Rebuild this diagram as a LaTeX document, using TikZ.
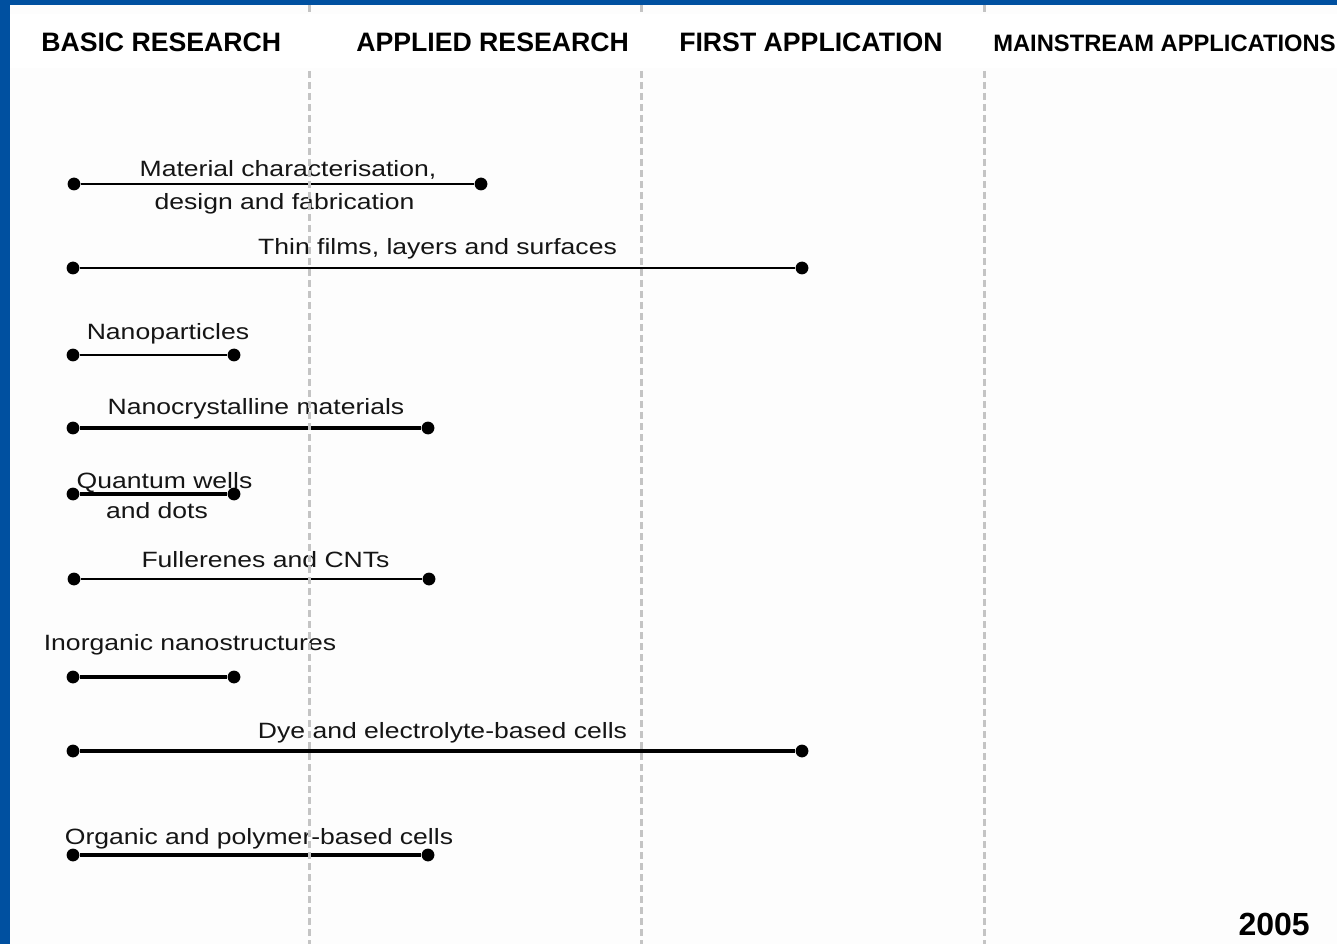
\documentclass[tikz,border=0pt]{standalone}
\usepackage{fontspec}
\setmainfont{Liberation Sans}
\newfontfamily\lblfont[FakeStretch=1.2]{Liberation Sans}
\definecolor{framebg}{HTML}{FDFDFD}
\definecolor{frameblue}{HTML}{0050A0}
\definecolor{phasegray}{HTML}{C4C4C4}
\definecolor{inkgray}{HTML}{151515}

\begin{document}
\begin{tikzpicture}[x=0.75pt,y=-0.75pt,
  dot/.style={circle,fill=black,inner sep=0pt,minimum size=9.6pt},
  thinbar/.style={line width=1.5pt},
  thickbar/.style={line width=2.3pt},
  lbl/.style={anchor=base,inner sep=0pt,text=inkgray,
    font=\lblfont\fontsize{16.6}{20}\selectfont},
  hdr/.style={anchor=base west,inner sep=0pt,
    font=\bfseries\fontsize{20}{24}\selectfont},
  phase/.style={draw=phasegray,line width=2.25pt,dash pattern=on 5.25pt off 3pt}]

% canvas and frame
\useasboundingbox (0,0) rectangle (1337,944);
\fill[framebg] (0,0) rectangle (1337,944);
\fill[frameblue] (0,0) rectangle (10,944);
\fill[frameblue] (0,0) rectangle (1337,5);

% technology bars: start and end markers
\node[dot] (a1) at (74,184) {};  \node[dot] (b1) at (481,184) {};
\node[dot] (a2) at (73,268) {};  \node[dot] (b2) at (802,268) {};
\node[dot] (a3) at (73,355) {};  \node[dot] (b3) at (234,355) {};
\node[dot] (a4) at (73,428) {};  \node[dot] (b4) at (428,428) {};
\node[dot] (a5) at (73,494) {};  \node[dot] (b5) at (234,494) {};
\node[dot] (a6) at (74,579) {};  \node[dot] (b6) at (429,579) {};
\node[dot] (a7) at (73,677) {};  \node[dot] (b7) at (234,677) {};
\node[dot] (a8) at (73,751) {};  \node[dot] (b8) at (802,751) {};
\node[dot] (a9) at (73,855) {};  \node[dot] (b9) at (428,855) {};

\draw[thinbar]  (a1) -- (b1);
\draw[thinbar]  (a2) -- (b2);
\draw[thinbar]  (a3) -- (b3);
\draw[thickbar] (a4) -- (b4);
\draw[thickbar] (a5) -- (b5);
\draw[thinbar]  (a6) -- (b6);
\draw[thickbar] (a7) -- (b7);
\draw[thickbar] (a8) -- (b8);
\draw[thickbar] (a9) -- (b9);

% bar labels
\node[lbl] (t1a) at (288,177) {Material characterisation,};
\node[lbl] (t1b) at (284.5,210) {design and fabrication};
\node[lbl] (t2)  at (437.5,255) {Thin films, layers and surfaces};
\node[lbl] (t3)  at (168,340) {Nanoparticles};
\node[lbl] (t4)  at (256,415) {Nanocrystalline materials};
\node[lbl] (t5a) at (164.5,488) {Quantum wells};
\node[lbl] (t5b) at (157,518) {and dots};
\node[lbl] (t6)  at (265.5,567) {Fullerenes and CNTs};
\node[lbl] (t7)  at (190,650) {Inorganic nanostructures};
\node[lbl] (t8)  at (442.5,738) {Dye and electrolyte-based cells};
\node[lbl] (t9)  at (259,844) {Organic and polymer-based cells};

% phase boundaries
\draw[phase] (309,5) -- (309,944);
\draw[phase] (641,5) -- (641,944);
\draw[phase] (984,5) -- (984,944);

% header band with phase titles
\fill[white] (10,14) rectangle (1337,68);
\node[hdr] (h1) at (41,52) {BASIC RESEARCH};
\node[hdr] (h2) at (356,52) {APPLIED RESEARCH};
\node[hdr] (h3) at (679,52) {FIRST APPLICATION};
\node[hdr,font=\bfseries\fontsize{17.8}{21}\selectfont] (h4) at (993,52) {MAINSTREAM APPLICATIONS};

% year
\node[anchor=base east,inner sep=0pt,font=\bfseries\fontsize{24}{28}\selectfont] (yr) at (1310,935) {2005};
\end{tikzpicture}
\end{document}
